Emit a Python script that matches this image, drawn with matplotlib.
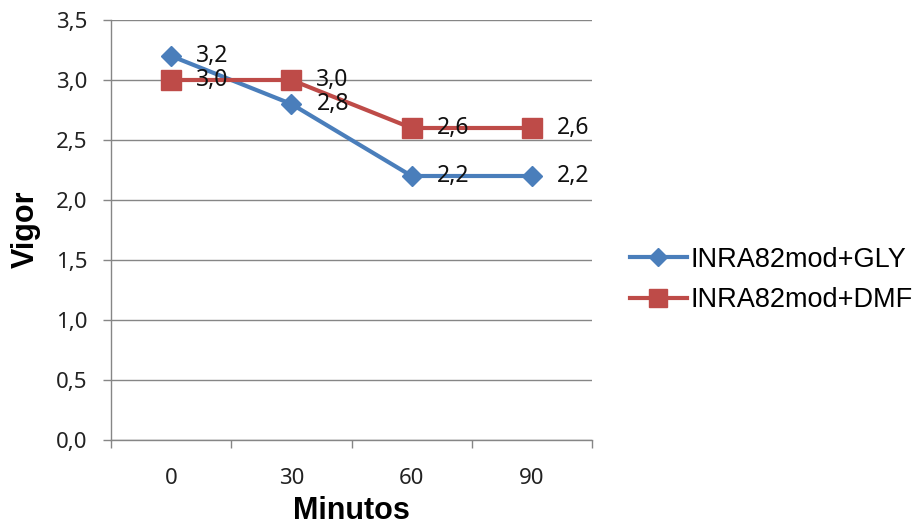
import matplotlib.pyplot as plt

# ==============================
# DATA
# ==============================

minutos = ["0", "30", "60", "90"]
vigor_gly = [3.2, 2.8, 2.2, 2.2]
vigor_dmf = [3.0, 3.0, 2.6, 2.6]
series_names = ["INRA82mod+GLY", "INRA82mod+DMF"]
y_ticks = [0.0, 0.5, 1.0, 1.5, 2.0, 2.5, 3.0, 3.5]

BLUE = "#4A7EBB"
RED = "#BE4B48"
GRID = "#868686"

# ==============================
# FIGURE
# ==============================

fig = plt.figure(figsize=(9.16, 5.27), dpi=100)
ax = fig.add_axes([111/916, 87/527, 481/916, 420/527])

x = list(range(len(minutos)))

ax.plot(x, vigor_gly, color=BLUE, lw=3, marker="D", ms=10.5,
        label=series_names[0], zorder=3)
ax.plot(x, vigor_dmf, color=RED, lw=3, marker="s", ms=14.5,
        label=series_names[1], zorder=3)

# value labels to the right of each point
for xs, ys in [(x, vigor_gly), (x, vigor_dmf)]:
    for xi, yi in zip(xs, ys):
        ax.annotate(f"{yi:.1f}".replace(".", ","), (xi, yi),
                    xytext=(18, 0), textcoords="offset points",
                    va="center", ha="left", fontsize=16.5,
                    family="Noto Sans", color="#111111", zorder=4)

ax.set_xlim(-0.5, 3.5)
ax.set_ylim(0, 3.5)
ax.set_yticks(y_ticks)
ax.set_yticklabels([f"{v:.1f}".replace(".", ",") for v in y_ticks])

# category ticks sit between the groups
ax.set_xticks([-0.5, 0.5, 1.5, 2.5, 3.5])
ax.set_xticklabels([])
ax.set_xticks(x, minor=True)
ax.set_xticklabels(minutos, minor=True)
ax.tick_params(axis="x", which="minor", length=0, pad=20)
ax.tick_params(axis="x", which="major", length=6, color=GRID, width=1)
ax.tick_params(axis="y", length=6, color=GRID, width=1, pad=11)

for lbl in ax.get_yticklabels() + ax.get_xticklabels(minor=True):
    lbl.set_fontsize(16)
    lbl.set_family("Noto Sans")
    lbl.set_color("#222222")

ax.grid(axis="y", color=GRID, lw=1)
ax.set_axisbelow(True)
for side in ["top", "right"]:
    ax.spines[side].set_visible(False)
for side in ["left", "bottom"]:
    ax.spines[side].set_color(GRID)
    ax.spines[side].set_linewidth(1)

fig.text(26/916, 1 - 229/527, "Vigor", rotation=90, ha="center", va="center",
         fontsize=22, fontweight="bold", family="Liberation Sans")
fig.text(351/916, 1/527, "Minutos", ha="center", va="bottom",
         fontsize=22, fontweight="bold", family="Liberation Sans")

fig.legend(loc="center left", bbox_to_anchor=(630/916, 1 - 280/527),
           frameon=False, prop={"family": "Liberation Sans", "size": 19.5},
           handlelength=2.1, handletextpad=0.15, labelspacing=0.55,
           borderpad=0, borderaxespad=0, markerscale=0.9)

fig.savefig("out.png", dpi=100)
